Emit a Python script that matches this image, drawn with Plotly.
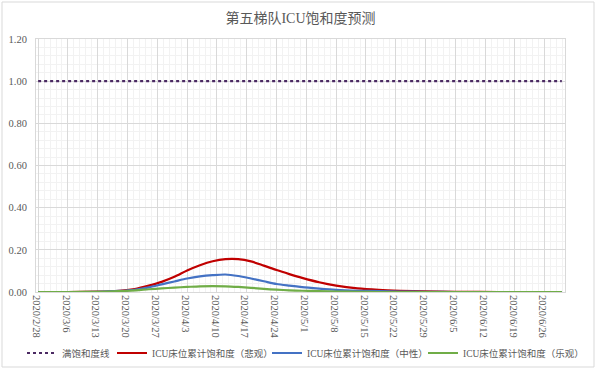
import pandas as pd
import plotly.graph_objects as go

# ---- data ----
dates = ["2020-02-28", "2020-03-06", "2020-03-13", "2020-03-18", "2020-03-22",
         "2020-03-25", "2020-03-28", "2020-03-31", "2020-04-03", "2020-04-06",
         "2020-04-09", "2020-04-12", "2020-04-15", "2020-04-18", "2020-04-21",
         "2020-04-24", "2020-04-27", "2020-04-30", "2020-05-04", "2020-05-08",
         "2020-05-13", "2020-05-18", "2020-05-23", "2020-05-29", "2020-06-05",
         "2020-06-15", "2020-06-30"]

full_line = [1.0] * len(dates)

pessimistic = [0, 0, 0.002, 0.006, 0.015, 0.030, 0.048, 0.072, 0.102, 0.127,
               0.146, 0.156, 0.156, 0.145, 0.125, 0.104, 0.085, 0.067, 0.046,
               0.030, 0.017, 0.010, 0.006, 0.003, 0.001, 0, 0]

neutral = [0, 0, 0.001, 0.005, 0.012, 0.022, 0.036, 0.050, 0.064, 0.074,
           0.080, 0.083, 0.076, 0.064, 0.051, 0.038, 0.030, 0.023, 0.016,
           0.010, 0.006, 0.004, 0.002, 0.001, 0, 0, 0]

optimistic = [0, 0, 0.001, 0.004, 0.008, 0.013, 0.017, 0.021, 0.024, 0.027,
              0.028, 0.027, 0.024, 0.020, 0.015, 0.011, 0.008, 0.006, 0.004,
              0.002, 0.001, 0, 0, 0, 0, 0, 0]

tick_labels = ["2020/2/28", "2020/3/6", "2020/3/13", "2020/3/20", "2020/3/27",
               "2020/4/3", "2020/4/10", "2020/4/17", "2020/4/24", "2020/5/1",
               "2020/5/8", "2020/5/15", "2020/5/22", "2020/5/29", "2020/6/5",
               "2020/6/12", "2020/6/19", "2020/6/26"]

series_names = ["满饱和度线", "ICU床位累计饱和度（悲观）",
                "ICU床位累计饱和度（中性）", "ICU床位累计饱和度（乐观）"]

title_text = "第五梯队ICU饱和度预测"

# ---- figure ----
x = pd.to_datetime(dates)
tickvals = pd.to_datetime(tick_labels, format="%Y/%m/%d")

fig = go.Figure()
fig.add_trace(go.Scatter(x=x, y=full_line, mode="lines", name=series_names[0],
                         legend="legend",
                         line=dict(color="#4B2A63", width=2.2, dash="dot")))
fig.add_trace(go.Scatter(x=x, y=pessimistic, mode="lines", name=series_names[1],
                         legend="legend2",
                         line=dict(color="#C00000", width=2.2, shape="spline", smoothing=0.8)))
fig.add_trace(go.Scatter(x=x, y=neutral, mode="lines", name=series_names[2],
                         legend="legend3",
                         line=dict(color="#4472C4", width=2.2, shape="spline", smoothing=0.8)))
fig.add_trace(go.Scatter(x=x, y=optimistic, mode="lines", name=series_names[3],
                         legend="legend4",
                         line=dict(color="#70AD47", width=2.2, shape="spline", smoothing=0.8)))

serif = "Liberation Serif, Noto Sans CJK SC, serif"
grid_major = "#D9D9D9"
grid_minor = "#F2F2F2"


def leg(px):
    return dict(orientation="h", x=px / 600, xanchor="left", xref="container",
                y=(370 - 353) / 370, yanchor="middle", yref="container",
                font=dict(family=serif, size=9.5, color="#595959"),
                bgcolor="rgba(0,0,0,0)")


fig.update_layout(
    width=600, height=370,
    margin=dict(l=36, r=35, t=39, b=78, autoexpand=False),
    paper_bgcolor="white", plot_bgcolor="white",
    title=dict(text=title_text, x=0.5, xref="paper", xanchor="center",
               y=1 - 18 / 370, yanchor="middle",
               font=dict(family=serif, size=14, color="#595959")),
    showlegend=True,
    legend=leg(22), legend2=leg(112), legend3=leg(267), legend4=leg(423),
    xaxis=dict(type="date",
               range=[pd.Timestamp("2020-02-27 12:00"), pd.Timestamp("2020-06-30 18:00")],
               tickvals=tickvals, ticktext=tick_labels, tickangle=90,
               ticklabelshift=-2,
               tickfont=dict(family=serif, size=10.5, color="#595959"),
               showgrid=True, gridcolor=grid_major, gridwidth=1,
               minor=dict(dtick=7 * 86400000 / 5, tick0="2020-02-28", showgrid=True,
                          gridcolor=grid_minor, gridwidth=1),
               showline=True, linecolor=grid_major, mirror=True,
               zeroline=False, ticks="", automargin=False),
    yaxis=dict(range=[0, 1.2], dtick=0.2, tick0=0, tickformat=".2f",
               tickfont=dict(family=serif, size=10.5, color="#595959"),
               showgrid=True, gridcolor=grid_major, gridwidth=1,
               minor=dict(dtick=0.04, showgrid=True, gridcolor=grid_minor, gridwidth=1),
               showline=True, linecolor=grid_major, mirror=True,
               zeroline=False, ticks="", ticklabelstandoff=6, automargin=False),
    shapes=[dict(type="rect", xref="paper", yref="paper",
                 x0=(2 - 36) / 529, x1=(594 - 36) / 529,
                 y0=(292 - 367) / 253, y1=(292 - 2) / 253,
                 line=dict(color="#D9D9D9", width=1), fillcolor="rgba(0,0,0,0)",
                 layer="below")],
)

fig.write_html("out.html", config={"displayModeBar": False},
               post_script="document.body.style.margin='0';document.body.style.overflow='hidden';")
